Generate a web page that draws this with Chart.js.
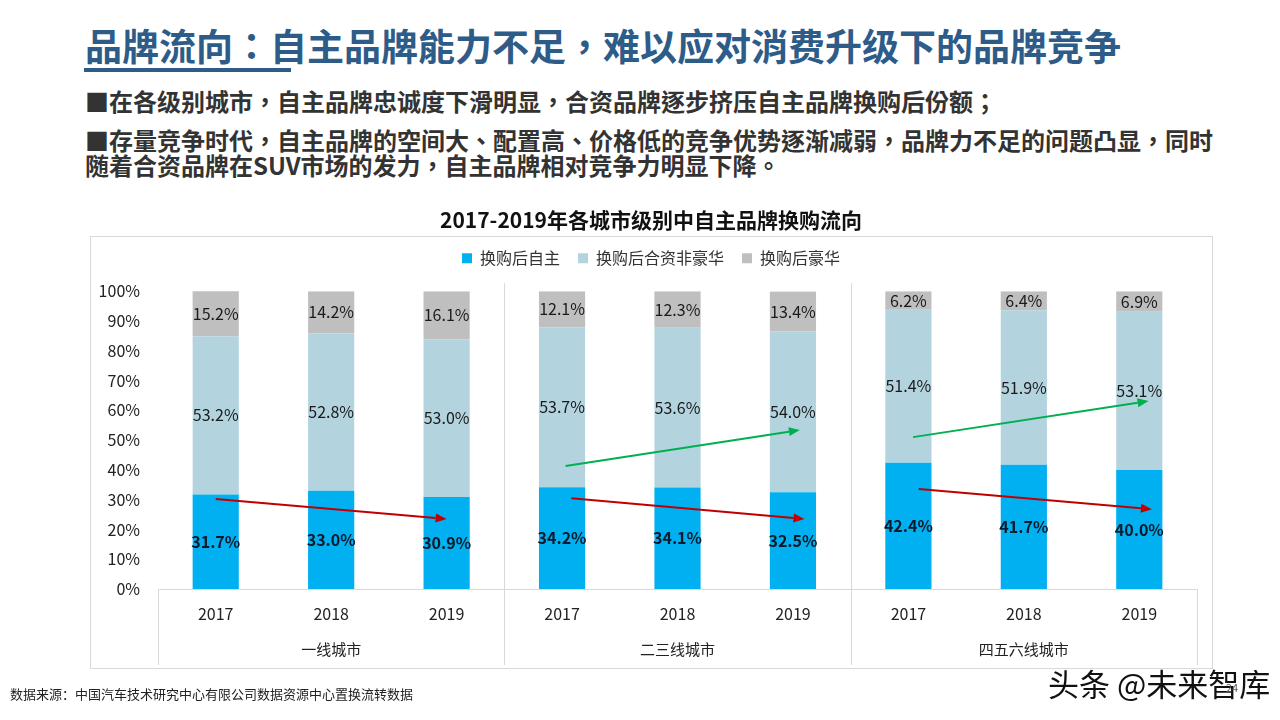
<!DOCTYPE html>
<html lang="zh-CN">
<head>
<meta charset="utf-8">
<script src="https://cdn.jsdelivr.net/npm/chart.js@4/dist/chart.umd.min.js"></script>
<style>
  html, body { margin: 0; padding: 0; background: #fff; }
  body { width: 1280px; height: 720px; position: relative; overflow: hidden;
         font-family: "Noto Sans CJK SC", "Noto Sans", sans-serif; }
  .abs { position: absolute; white-space: nowrap; }
  .tc { font-family: "Noto Sans CJK TC", "Noto Sans CJK SC", sans-serif; }
  #title { left: 85px; top: 23px; font-size: 37px; line-height: 44px; font-weight: 700; color: #2E5C89; }
  #uline { left: 84px; top: 68px; width: 207px; height: 4px; background: #2E5C89; }
  .bullet { left: 85px; font-size: 24px; line-height: 25px; font-weight: 700; color: #333; }
  #b1 { top: 88px; }
  #b2 { top: 127px; }
  #box { left: 90px; top: 236px; width: 1121px; height: 431px; border: 1px solid #d9d9d9; }
  #src { left: 10px; top: 685px; font-size: 13px; line-height: 18px; color: #222; }
  #wm { left: 1048px; top: 663px; font-size: 31px; line-height: 40px; color: #111; }
  #pg { left: 1226px; top: 680px; font-size: 11px; line-height: 14px; color: #555; }
  canvas { position: absolute; left: 0; top: 0; }
</style>
</head>
<body>
<div class="abs tc" id="title" lang="zh-TW">品牌流向：自主品牌能力不足，难以应对消费升级下的品牌竞争</div>
<div class="abs" id="uline"></div>
<div class="abs bullet tc" id="b1" lang="zh-TW">■在各级别城市，自主品牌忠诚度下滑明显，合资品牌逐步挤压自主品牌换购后份额；</div>
<div class="abs bullet tc" id="b2" lang="zh-TW">■存量竞争时代，自主品牌的空间大、配置高、价格低的竞争优势逐渐减弱，品牌力不足的问题凸显，同时<br>随着合资品牌在SUV市场的发力，自主品牌相对竞争力明显下降。</div>
<div class="abs" id="box"></div>
<canvas id="c" width="1280" height="720"></canvas>
<div class="abs" id="src">数据来源：中国汽车技术研究中心有限公司数据资源中心置换流转数据</div>
<div class="abs" id="wm">头条 @未来智库</div>
<div class="abs" id="pg">24</div>
<script>
// ---- data ----
const chartTitle = '2017-2019年各城市级别中自主品牌换购流向';
const groups = ['一线城市', '二三线城市', '四五六线城市'];
const years = ['2017', '2018', '2019'];
const seriesNames = ['换购后自主', '换购后合资非豪华', '换购后豪华'];
const selfBrand = [31.7, 33.0, 30.9, 34.2, 34.1, 32.5, 42.4, 41.7, 40.0];
const jvNonLuxury = [53.2, 52.8, 53.0, 53.7, 53.6, 54.0, 51.4, 51.9, 53.1];
const luxury = [15.2, 14.2, 16.1, 12.1, 12.3, 13.4, 6.2, 6.4, 6.9];
const yTickStep = 10;
const yMax = 100;
// trend arrows: [fromCategoryIndex, fromValue, toCategoryIndex, toValue]
const redArrows = [[0.0, 30.2, 2.0, 23.5], [3.08, 30.5, 5.10, 23.5], [6.09, 33.6, 8.11, 26.8]];
const greenArrows = [[3.03, 41.3, 5.06, 53.4], [6.04, 51.0, 8.08, 63.1]];

const labels = groups.flatMap(() => years);
const FONT = '"Noto Sans CJK SC", "Noto Sans", sans-serif';
Chart.defaults.font.family = FONT;
Chart.defaults.color = '#222';

const colors = ['#00B0F0', '#B3D4DF', '#BFBFBF'];

const overlay = {
  id: 'overlay',
  afterDatasetsDraw(chart) {
    const ctx = chart.ctx;
    const xs = chart.scales.x, ys = chart.scales.y;
    chart.data.datasets.forEach((ds, di) => {
      const meta = chart.getDatasetMeta(di);
      meta.data.forEach((el, i) => {
        const cy = (el.y + el.base) / 2;
        ctx.save();
        ctx.font = (di === 0 ? '700 ' : '400 ') + '16px ' + FONT;
        ctx.fillStyle = di === 0 ? '#0B1A2A' : '#1a1a1a';
        ctx.textAlign = 'center';
        ctx.textBaseline = 'middle';
        ctx.fillText(ds.data[i].toFixed(1) + '%', el.x, cy);
        ctx.restore();
      });
    });
    const drawArrow = (a, color) => {
      const x0 = xs.getPixelForValue(a[0]), y0 = ys.getPixelForValue(a[1]);
      const x1 = xs.getPixelForValue(a[2]), y1 = ys.getPixelForValue(a[3]);
      const ang = Math.atan2(y1 - y0, x1 - x0);
      const L = 11, W = 4.5;
      ctx.save();
      ctx.strokeStyle = color; ctx.fillStyle = color; ctx.lineWidth = 2;
      ctx.beginPath();
      ctx.moveTo(x0, y0);
      ctx.lineTo(x1 - L * Math.cos(ang), y1 - L * Math.sin(ang));
      ctx.stroke();
      ctx.beginPath();
      ctx.moveTo(x1, y1);
      ctx.lineTo(x1 - L * Math.cos(ang) + W * Math.sin(ang), y1 - L * Math.sin(ang) - W * Math.cos(ang));
      ctx.lineTo(x1 - L * Math.cos(ang) - W * Math.sin(ang), y1 - L * Math.sin(ang) + W * Math.cos(ang));
      ctx.closePath();
      ctx.fill();
      ctx.restore();
    };
    redArrows.forEach(a => drawArrow(a, '#C00000'));
    greenArrows.forEach(a => drawArrow(a, '#00B050'));
  },
  afterDraw(chart) {
    const ctx = chart.ctx;
    const xs = chart.scales.x;
    const area = chart.chartArea;
    const bottom = xs.bottom - 3;
    ctx.save();
    ctx.strokeStyle = '#D9D9D9';
    ctx.lineWidth = 1;
    const n = years.length;
    [area.left, area.right].forEach(x => {
      ctx.beginPath();
      ctx.moveTo(Math.round(x) + 0.5, area.bottom);
      ctx.lineTo(Math.round(x) + 0.5, bottom);
      ctx.stroke();
    });
    for (let g = 1; g < groups.length; g++) {
      const x = (xs.getPixelForValue(g * n - 1) + xs.getPixelForValue(g * n)) / 2;
      ctx.beginPath();
      ctx.moveTo(Math.round(x) + 0.5, area.top - 8);
      ctx.lineTo(Math.round(x) + 0.5, bottom);
      ctx.stroke();
    }
    ctx.font = '400 15px ' + FONT;
    ctx.fillStyle = '#222';
    ctx.textAlign = 'center';
    ctx.textBaseline = 'middle';
    groups.forEach((g, gi) => {
      const x = xs.getPixelForValue(gi * n + (n - 1) / 2);
      ctx.fillText(g, x, area.bottom + 60);
    });
    ctx.restore();
  }
};

new Chart(document.getElementById('c'), {
  type: 'bar',
  data: {
    labels: labels,
    datasets: [
      { label: seriesNames[0], data: selfBrand, backgroundColor: colors[0], borderWidth: 0 },
      { label: seriesNames[1], data: jvNonLuxury, backgroundColor: colors[1], borderWidth: 0 },
      { label: seriesNames[2], data: luxury, backgroundColor: colors[2], borderWidth: 0 }
    ]
  },
  options: {
    responsive: false,
    animation: false,
    devicePixelRatio: 1,
    categoryPercentage: 1.0,
    barPercentage: 0.4,
    layout: { padding: { left: 90, right: 68, top: 207, bottom: 52 } },
    plugins: {
      tooltip: { enabled: false },
      title: {
        display: true, text: chartTitle, color: '#111',
        font: { size: 21, weight: '700', lineHeight: 1.2 },
        padding: { top: 0, bottom: 0 }
      },
      legend: {
        display: true,
        labels: {
          boxWidth: 10, boxHeight: 10, padding: 18, color: '#333',
          font: { size: 16 }
        }
      }
    },
    scales: {
      x: {
        stacked: true,
        position: 'bottom',
        grid: { display: false, drawTicks: false },
        border: { display: true, color: '#D9D9D9', width: 1 },
        ticks: { padding: 15, color: '#222', font: { size: 16 }, maxRotation: 0, autoSkip: false },
        afterFit(s) { s.height = 79; }
      },
      xTop: {
        type: 'category', position: 'top', display: true,
        grid: { display: false, drawTicks: false },
        border: { display: false },
        ticks: { display: false },
        afterFit(s) { s.height = 15; }
      },
      y: {
        stacked: true,
        min: 0, max: yMax,
        grid: { display: false, drawTicks: false },
        border: { display: false },
        ticks: { stepSize: yTickStep, padding: 18, color: '#222', font: { size: 16 },
                 callback: v => v + '%' },
        afterFit(s) { s.width = 68; }
      },
      yRight: {
        type: 'linear', position: 'right', display: true,
        grid: { display: false, drawTicks: false },
        border: { display: false },
        ticks: { display: false },
        afterFit(s) { s.width = 15; }
      }
    }
  },
  plugins: [overlay]
});
</script>
</body>
</html>
